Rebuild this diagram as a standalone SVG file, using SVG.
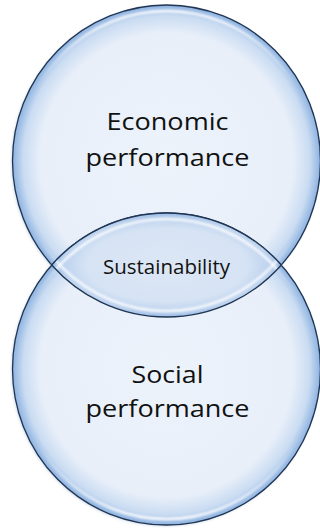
<svg xmlns="http://www.w3.org/2000/svg" width="320" height="528" viewBox="0 0 320 528">
  <defs>
    <radialGradient id="circFill" cx="0.5" cy="0.5" r="0.5">
      <stop offset="0" stop-color="#EDF3FB"/>
      <stop offset="0.82" stop-color="#E8EFF9"/>
      <stop offset="0.93" stop-color="#CADCF2"/>
      <stop offset="1" stop-color="#8DB2E0"/>
    </radialGradient>
    <radialGradient id="lensFill" cx="0.5" cy="0.5" r="0.5">
      <stop offset="0" stop-color="#DCE7F5"/>
      <stop offset="0.7" stop-color="#D6E3F4"/>
      <stop offset="0.9" stop-color="#BCD2EE"/>
      <stop offset="1" stop-color="#9BBCE6"/>
    </radialGradient>
    <linearGradient id="hiGrad" x1="0" y1="0" x2="0" y2="1">
      <stop offset="0" stop-color="#FFFFFF" stop-opacity="0.95"/>
      <stop offset="0.25" stop-color="#FFFFFF" stop-opacity="0"/>
      <stop offset="0.75" stop-color="#FFFFFF" stop-opacity="0"/>
      <stop offset="1" stop-color="#FFFFFF" stop-opacity="0.95"/>
    </linearGradient>
    <filter id="soft" x="-10%" y="-10%" width="120%" height="120%">
      <feGaussianBlur stdDeviation="0.9"/>
    </filter>
    <filter id="shadow" x="-10%" y="-10%" width="120%" height="120%">
      <feGaussianBlur stdDeviation="1.5"/>
    </filter>
    <clipPath id="lensClip">
      <path d="M51.7,265 A154,156 0 0 1 281.3,265 A154,156 0 0 1 51.7,265 Z"/>
    </clipPath>
  </defs>
  <style>
    .rim { fill: none; stroke: #1F3553; stroke-width: 1.3; }
    .hi { fill: none; stroke: url(#hiGrad); stroke-width: 2.5; }
    .big { font-family: "Open Sans", "Liberation Sans", sans-serif; font-size: 24px; fill: #111111; text-anchor: middle; }
    .small { font-family: "Open Sans", "Liberation Sans", sans-serif; font-size: 20px; fill: #111111; text-anchor: middle; }
  </style>
  <rect width="320" height="528" fill="#FFFFFF"/>

  <g id="economic">
    <ellipse cx="165.5" cy="162" rx="154" ry="156" fill="#6F8FB8" opacity="0.35" filter="url(#shadow)"/>
    <ellipse cx="166.5" cy="161" rx="154" ry="156" fill="url(#circFill)"/>
    <ellipse cx="166.5" cy="161" rx="148" ry="150" class="hi" filter="url(#soft)"/>
    <ellipse cx="166.5" cy="161" rx="154" ry="156" class="rim"/>
    <text class="big" x="167.5" y="130" textLength="122" lengthAdjust="spacingAndGlyphs">Economic</text>
    <text class="big" x="167.5" y="165.5" textLength="164" lengthAdjust="spacingAndGlyphs">performance</text>
  </g>

  <g id="social">
    <ellipse cx="165.5" cy="370" rx="154" ry="156" fill="#6F8FB8" opacity="0.35" filter="url(#shadow)"/>
    <ellipse cx="166.5" cy="369" rx="154" ry="156" fill="url(#circFill)"/>
    <ellipse cx="166.5" cy="369" rx="148" ry="150" class="hi" filter="url(#soft)"/>
    <ellipse cx="166.5" cy="369" rx="154" ry="156" class="rim"/>
    <text class="big" x="167.5" y="383" textLength="72" lengthAdjust="spacingAndGlyphs">Social</text>
    <text class="big" x="167.5" y="417" textLength="164" lengthAdjust="spacingAndGlyphs">performance</text>
  </g>

  <g id="sustainability">
    <path d="M51.7,265 A154,156 0 0 1 281.3,265 A154,156 0 0 1 51.7,265 Z" fill="url(#lensFill)"/>
    <g clip-path="url(#lensClip)" filter="url(#soft)">
      <ellipse cx="166.5" cy="369" rx="148" ry="150" fill="none" stroke="#FFFFFF" stroke-opacity="0.85" stroke-width="2.5"/>
      <ellipse cx="166.5" cy="161" rx="148" ry="150" fill="none" stroke="#FFFFFF" stroke-opacity="0.85" stroke-width="2.5"/>
    </g>
    <path d="M51.7,265 A154,156 0 0 1 281.3,265 A154,156 0 0 1 51.7,265 Z" class="rim"/>
    <text class="small" x="166.5" y="274" textLength="127" lengthAdjust="spacingAndGlyphs">Sustainability</text>
  </g>
</svg>
